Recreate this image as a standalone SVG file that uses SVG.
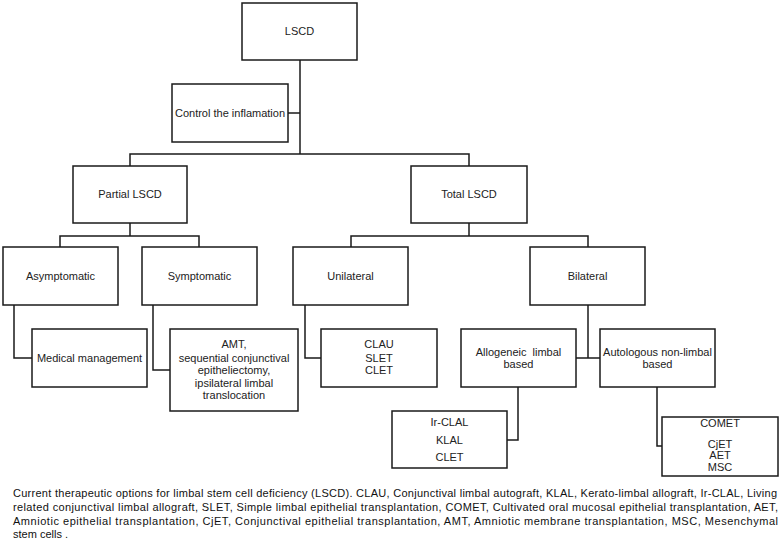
<svg xmlns="http://www.w3.org/2000/svg" width="782" height="545" viewBox="0 0 782 545">
<style>
  .box { fill: #ffffff; stroke: #1a1a1a; stroke-width: 1.5; }
  .lbl { font-family: "Liberation Sans", Arial, sans-serif; font-size: 11px; fill: #222; text-anchor: middle; white-space: pre; }
  .cap { font-family: "Liberation Sans", Arial, sans-serif; font-size: 11px; fill: #111; }
  .con { fill: none; stroke: #1a1a1a; stroke-width: 1.5; }
</style>
<rect width="782" height="545" fill="#ffffff"/>
<g id="connectors" class="con">
  <path d="M300,60 V154"/>
  <path d="M288,113 H300"/>
  <path d="M130,166 V154 H469 V166"/>
  <path d="M130,223 V236"/>
  <path d="M60,247 V236 H199 V247"/>
  <path d="M469,223 V236"/>
  <path d="M351,247 V236 H588 V247"/>
  <path d="M14,305 V358 H32"/>
  <path d="M153,305 V370 H170"/>
  <path d="M305,305 V358 H321"/>
  <path d="M588,305 V358"/>
  <path d="M576,358 H600"/>
  <path d="M518,387 V440 H507"/>
  <path d="M657,387 V446 H662"/>
</g>
<g id="lscd">
  <rect class="box" x="242" y="3" width="115" height="57"/>
  <text class="lbl" x="299.5" y="35">LSCD</text>
</g>
<g id="control">
  <rect class="box" x="172" y="84" width="116" height="58"/>
  <text class="lbl" x="230" y="117">Control the inflamation</text>
</g>
<g id="partial">
  <rect class="box" x="73" y="166" width="114" height="57"/>
  <text class="lbl" x="130" y="198">Partial LSCD</text>
</g>
<g id="total">
  <rect class="box" x="411" y="166" width="116" height="57"/>
  <text class="lbl" x="469" y="198">Total LSCD</text>
</g>
<g id="asymptomatic">
  <rect class="box" x="3" y="247" width="115" height="58"/>
  <text class="lbl" x="60.5" y="280">Asymptomatic</text>
</g>
<g id="symptomatic">
  <rect class="box" x="142" y="247" width="115" height="58"/>
  <text class="lbl" x="199.5" y="280">Symptomatic</text>
</g>
<g id="unilateral">
  <rect class="box" x="293" y="247" width="115" height="58"/>
  <text class="lbl" x="350.5" y="280">Unilateral</text>
</g>
<g id="bilateral">
  <rect class="box" x="530" y="247" width="115" height="58"/>
  <text class="lbl" x="587.5" y="280">Bilateral</text>
</g>
<g id="medical">
  <rect class="box" x="32" y="329" width="115" height="58"/>
  <text class="lbl" x="89.5" y="362">Medical management</text>
</g>
<g id="amt">
  <rect class="box" x="170" y="329" width="128" height="82"/>
  <text class="lbl" x="234" y="348">AMT,</text>
  <text class="lbl" x="234" y="362">sequential conjunctival</text>
  <text class="lbl" x="234" y="374">epitheliectomy,</text>
  <text class="lbl" x="234" y="387">ipsilateral limbal</text>
  <text class="lbl" x="234" y="399">translocation</text>
</g>
<g id="clau">
  <rect class="box" x="321" y="329" width="116" height="58"/>
  <text class="lbl" x="379" y="348">CLAU</text>
  <text class="lbl" x="379" y="362">SLET</text>
  <text class="lbl" x="379" y="374">CLET</text>
</g>
<g id="allogeneic">
  <rect class="box" x="461" y="329" width="115" height="58"/>
  <text class="lbl" x="518.5" y="356">Allogeneic  limbal</text>
  <text class="lbl" x="518.5" y="368">based</text>
</g>
<g id="autologous">
  <rect class="box" x="600" y="329" width="115" height="58"/>
  <text class="lbl" x="657.5" y="356">Autologous non-limbal</text>
  <text class="lbl" x="657.5" y="368">based</text>
</g>
<g id="irclal">
  <rect class="box" x="392" y="411" width="115" height="57"/>
  <text class="lbl" x="449.5" y="426">Ir-CLAL</text>
  <text class="lbl" x="449.5" y="444">KLAL</text>
  <text class="lbl" x="449.5" y="461">CLET</text>
</g>
<g id="comet">
  <rect class="box" x="662" y="417" width="116" height="59"/>
  <text class="lbl" x="720" y="427">COMET</text>
  <text class="lbl" x="720" y="448">CjET</text>
  <text class="lbl" x="720" y="459">AET</text>
  <text class="lbl" x="720" y="471">MSC</text>
</g>
<g id="caption">
  <text class="cap" x="13" y="497" textLength="764" lengthAdjust="spacing">Current therapeutic options for limbal stem cell deficiency (LSCD). CLAU, Conjunctival limbal autograft, KLAL, Kerato-limbal allograft, Ir-CLAL, Living</text>
  <text class="cap" x="13" y="511" textLength="765" lengthAdjust="spacing">related conjunctival limbal allograft, SLET, Simple limbal epithelial transplantation, COMET, Cultivated oral mucosal epithelial transplantation, AET,</text>
  <text class="cap" x="13" y="525" textLength="765" lengthAdjust="spacing">Amniotic epithelial transplantation, CjET, Conjunctival epithelial transplantation, AMT, Amniotic membrane transplantation, MSC, Mesenchymal</text>
  <text class="cap" x="13" y="538">stem cells .</text>
</g>
</svg>
